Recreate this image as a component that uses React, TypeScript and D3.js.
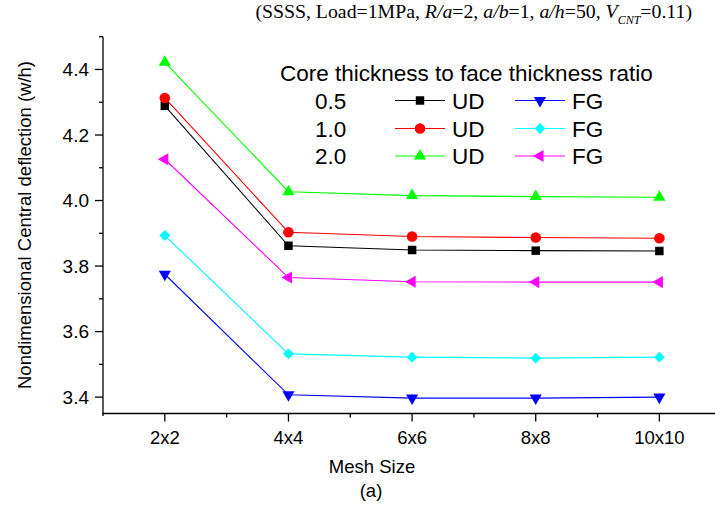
import React, { useEffect, useRef } from "react";
import * as d3 from "d3";

const categories = ["2x2", "4x4", "6x6", "8x8", "10x10"];
const ratios = ["0.5", "1.0", "2.0"];

const ud05 = [4.289, 3.862, 3.849, 3.847, 3.846];
const ud10 = [4.313, 3.903, 3.89, 3.887, 3.885];
const ud20 = [4.422, 4.027, 4.015, 4.012, 4.01];
const fg05 = [3.775, 3.407, 3.397, 3.397, 3.4];
const fg10 = [3.893, 3.532, 3.522, 3.519, 3.522];
const fg20 = [4.126, 3.765, 3.752, 3.751, 3.751];

const yMajor = [3.4, 3.6, 3.8, 4.0, 4.2, 4.4];
const yMinor = [3.5, 3.7, 3.9, 4.1, 4.3, 4.5];

type Shape = "square" | "circle" | "triUp" | "triDown" | "diamond" | "triLeft";

interface Series {
  name: string;
  values: number[];
  color: string;
  shape: Shape;
}

const series: Series[] = [
  { name: "UD 0.5", values: ud05, color: "#000000", shape: "square" },
  { name: "UD 1.0", values: ud10, color: "#ff0000", shape: "circle" },
  { name: "UD 2.0", values: ud20, color: "#00ff00", shape: "triUp" },
  { name: "FG 0.5", values: fg05, color: "#0000ff", shape: "triDown" },
  { name: "FG 1.0", values: fg10, color: "#00ffff", shape: "diamond" },
  { name: "FG 2.0", values: fg20, color: "#ff00ff", shape: "triLeft" },
];

const symbolPath = (shape: Shape) => {
  switch (shape) {
    case "square":
      return { d: d3.symbol(d3.symbolSquare, 72)()!, rot: 0 };
    case "circle":
      return { d: d3.symbol(d3.symbolCircle, 88)()!, rot: 0 };
    case "triUp":
      return { d: d3.symbol(d3.symbolTriangle, 64)()!, rot: 0 };
    case "triDown":
      return { d: d3.symbol(d3.symbolTriangle, 64)()!, rot: 180 };
    case "triLeft":
      return { d: d3.symbol(d3.symbolTriangle, 64)()!, rot: -90 };
    case "diamond":
      return { d: d3.symbol(d3.symbolSquare, 60)()!, rot: 45 };
  }
};

const App: React.FC = () => {
  const svgRef = useRef<SVGSVGElement>(null);

  useEffect(() => {
    if (!svgRef.current) return;
    const svg = d3.select(svgRef.current);
    svg.selectAll("*").remove();

    const font = "Arial, 'Liberation Sans', sans-serif";
    const x = d3.scaleLinear().domain([-0.5, 4.45]).range([103, 715]);
    const y = d3.scaleLinear().domain([3.35, 4.5]).range([413.5, 36.7]);

    // Title
    const title = svg
      .append("text")
      .attr("x", 692)
      .attr("y", 17.5)
      .attr("text-anchor", "end")
      .attr("font-family", "'Times New Roman', 'Liberation Serif', serif")
      .attr("font-size", 19.8)
      .attr("fill", "#000");
    const parts: [string, boolean][] = [
      ["(SSSS, Load=1MPa, ", false],
      ["R/a", true],
      ["=2, ", false],
      ["a/b", true],
      ["=1, ", false],
      ["a/h", true],
      ["=50, ", false],
      ["V", true],
    ];
    parts.forEach(([t, it]) => {
      title.append("tspan").attr("font-style", it ? "italic" : "normal").text(t);
    });
    title
      .append("tspan")
      .attr("font-style", "italic")
      .attr("font-size", 12)
      .attr("dy", 6.5)
      .text("CNT");
    title.append("tspan").attr("dy", -6.5).text("=0.11)");

    // Axes
    const axes = svg.append("g").attr("stroke", "#000").attr("stroke-width", 1.3);
    axes.append("line").attr("x1", 103).attr("x2", 103).attr("y1", y(4.5)).attr("y2", 416);
    axes.append("line").attr("x1", 102.4).attr("x2", 715).attr("y1", 413.5).attr("y2", 413.5);

    yMajor.forEach((v) => {
      axes.append("line").attr("x1", 95).attr("x2", 103).attr("y1", y(v)).attr("y2", y(v));
    });
    yMinor.forEach((v) => {
      axes.append("line").attr("x1", 99).attr("x2", 103).attr("y1", y(v)).attr("y2", y(v));
    });
    categories.forEach((_c, i) => {
      axes.append("line").attr("x1", x(i)).attr("x2", x(i)).attr("y1", 413.5).attr("y2", 421.5);
      if (i < categories.length - 1)
        axes
          .append("line")
          .attr("x1", x(i + 0.5))
          .attr("x2", x(i + 0.5))
          .attr("y1", 413.5)
          .attr("y2", 417.5);
    });

    svg
      .append("g")
      .selectAll("text")
      .data(yMajor)
      .join("text")
      .attr("x", 89)
      .attr("y", (d) => y(d))
      .attr("dy", "0.35em")
      .attr("text-anchor", "end")
      .attr("font-family", font)
      .attr("font-size", 19)
      .text((d) => d.toFixed(1));

    svg
      .append("g")
      .selectAll("text")
      .data(categories)
      .join("text")
      .attr("x", (_d, i) => x(i))
      .attr("y", 444)
      .attr("text-anchor", "middle")
      .attr("font-family", font)
      .attr("font-size", 18.5)
      .text((d) => d);

    svg
      .append("text")
      .attr("x", 372)
      .attr("y", 473)
      .attr("text-anchor", "middle")
      .attr("font-family", font)
      .attr("font-size", 18.5)
      .text("Mesh Size");
    svg
      .append("text")
      .attr("x", 371)
      .attr("y", 497)
      .attr("text-anchor", "middle")
      .attr("font-family", font)
      .attr("font-size", 18.5)
      .text("(a)");

    svg
      .append("text")
      .attr("transform", `translate(31,225) rotate(-90)`)
      .attr("text-anchor", "middle")
      .attr("font-family", font)
      .attr("font-size", 18.5)
      .text("Nondimensional Central deflection (w/h)");

    // Lines and markers
    const line = d3
      .line<number>()
      .x((_d, i) => x(i))
      .y((d) => y(d));

    series.forEach((s) => {
      svg
        .append("path")
        .attr("d", line(s.values))
        .attr("fill", "none")
        .attr("stroke", s.color)
        .attr("stroke-width", 1.1);
    });
    series.forEach((s) => {
      const sym = symbolPath(s.shape);
      svg
        .append("g")
        .selectAll("path")
        .data(s.values)
        .join("path")
        .attr("d", sym.d)
        .attr("transform", (d, i) => `translate(${x(i)},${y(d)}) rotate(${sym.rot})`)
        .attr("fill", s.color);
    });

    // Legend
    const lg = svg.append("g").attr("font-family", font);
    lg.append("text")
      .attr("x", 280)
      .attr("y", 81)
      .attr("font-size", 22.5)
      .text("Core thickness to face thickness ratio");

    const rowY = [100.5, 128.5, 156];
    ratios.forEach((r, i) => {
      const ry = rowY[i];
      lg.append("text")
        .attr("x", 315)
        .attr("y", ry)
        .attr("dy", "0.36em")
        .attr("font-size", 22.5)
        .text(r);
      const pair = [series[i], series[i + 3]];
      pair.forEach((s, j) => {
        const x0 = j === 0 ? 395 : 515;
        const sym = symbolPath(s.shape);
        lg.append("line")
          .attr("x1", x0)
          .attr("x2", x0 + 50)
          .attr("y1", ry)
          .attr("y2", ry)
          .attr("stroke", s.color)
          .attr("stroke-width", 1.1);
        lg.append("path")
          .attr("d", sym.d)
          .attr("transform", `translate(${x0 + 25},${ry}) rotate(${sym.rot})`)
          .attr("fill", s.color);
        lg.append("text")
          .attr("x", x0 + 57)
          .attr("y", ry)
          .attr("dy", "0.36em")
          .attr("font-size", 22.5)
          .text(j === 0 ? "UD" : "FG");
      });
    });
  }, []);

  return (
    <svg
      ref={svgRef}
      width={715}
      height={508}
      style={{ position: "absolute", left: 0, top: 0, background: "#fff" }}
    />
  );
};

export default App;
